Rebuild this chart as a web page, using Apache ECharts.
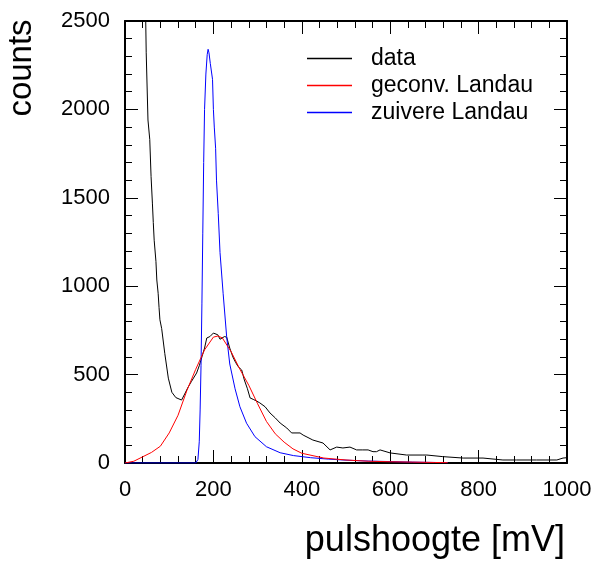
<!DOCTYPE html>
<html>
<head>
<meta charset="utf-8">
<script src="https://cdn.jsdelivr.net/npm/echarts@6/dist/echarts.min.js"></script>
<style>
html,body{margin:0;padding:0;background:#fff;}
#c{width:597px;height:563px;}
</style>
</head>
<body>
<div id="c"></div>
<script>
// ---- data ----
const xTicks = [0, 200, 400, 600, 800, 1000];
const yTicks = [0, 500, 1000, 1500, 2000, 2500];

const seriesNames = ['data', 'geconv. Landau', 'zuivere Landau'];

// measured histogram ("data")
const dataX = [30, 45, 48, 52, 56, 59, 62, 64, 66, 70, 72, 75, 77, 79, 83, 90, 98, 106, 115, 128, 135, 143, 150, 162, 168, 174, 180, 185, 192, 200, 204, 210, 215, 219, 225, 230, 237, 244, 250, 256, 264, 270, 277, 283, 290, 298, 305, 317, 328, 340, 351, 366, 377, 396, 403, 425, 448, 464, 479, 493, 509, 524, 538, 550, 561, 569, 577, 600, 637, 674, 683, 719, 765, 810, 855, 886, 931, 977, 991, 1000];
const dataCounts = [4000, 2800, 2320, 1940, 1830, 1620, 1470, 1360, 1260, 1140, 1035, 960, 880, 810, 760, 620, 480, 400, 370, 356, 390, 430, 460, 509, 550, 600, 650, 707, 715, 735, 740, 725, 700, 710, 715, 712, 650, 600, 570, 545, 526, 470, 420, 368, 360, 350, 340, 318, 283, 255, 226, 198, 170, 170, 158, 130, 113, 74, 90, 85, 90, 74, 74, 74, 64, 64, 74, 57, 45, 45, 45, 36, 28, 28, 17, 17, 17, 17, 28, 30];

// convolved Landau fit
const convX = [0, 20, 40, 60, 80, 100, 120, 140, 160, 180, 200, 210, 220, 240, 260, 280, 300, 320, 340, 360, 380, 400, 450, 500, 550, 600, 650, 700, 730];
const convCounts = [0, 10, 35, 60, 95, 170, 270, 410, 530, 640, 712, 718, 708, 630, 530, 440, 335, 235, 165, 118, 80, 55, 28, 17, 10, 7, 5, 3, 2];

// pure Landau
const pureX = [0, 160, 165, 168, 170, 172, 174, 176, 178, 180, 183, 186, 188, 190, 193, 196, 198, 200, 202, 205, 207, 211, 215, 222, 230, 237, 249, 260, 275, 294, 320, 351, 381, 420, 460, 500, 550, 600, 650, 700, 730];
const pureCounts = [0, 0, 20, 120, 300, 550, 900, 1300, 1700, 2000, 2200, 2310, 2340, 2320, 2260, 2250, 2170, 2000, 1900, 1780, 1600, 1410, 1190, 960, 714, 560, 420, 318, 225, 149, 92, 58, 42, 30, 22, 16, 11, 8, 5, 3, 2];

function pairs(xs, ys) { return xs.map((x, i) => [x, ys[i]]); }

const chart = echarts.init(document.getElementById('c'), null, {renderer: 'canvas'});
const FONT = 'Liberation Sans, Arial, Helvetica, sans-serif';

const tickStyle = {color: '#000', width: 1};
function xAxisCfg(pos, labels) {
  return {
    type: 'value', position: pos, min: xTicks[0], max: xTicks[xTicks.length - 1], interval: xTicks[1] - xTicks[0],
    axisLine: {show: true, onZero: false, lineStyle: {color: '#000', width: 2}},
    axisTick: {show: true, inside: true, length: 13, lineStyle: tickStyle},
    minorTick: {show: true, splitNumber: 5, length: 7, lineStyle: tickStyle},
    axisLabel: {show: labels, margin: 16, color: '#000', fontSize: 22, fontFamily: FONT, formatter: v => String(v)},
    splitLine: {show: false}
  };
}
function yAxisCfg(pos, labels) {
  return {
    type: 'value', position: pos, min: yTicks[0], max: yTicks[yTicks.length - 1], interval: yTicks[1] - yTicks[0],
    axisLine: {show: true, onZero: false, lineStyle: {color: '#000', width: 2}},
    axisTick: {show: true, inside: true, length: 13, lineStyle: tickStyle},
    minorTick: {show: true, splitNumber: 5, length: 7, lineStyle: tickStyle},
    axisLabel: {show: labels, margin: 15, color: '#000', fontSize: 22, fontFamily: FONT, formatter: v => String(v)},
    splitLine: {show: false}
  };
}

chart.setOption({
  animation: false,
  backgroundColor: '#fff',
  grid: {left: 125, top: 21, width: 442, height: 442},
  xAxis: [xAxisCfg('bottom', true), xAxisCfg('top', false)],
  yAxis: [yAxisCfg('left', true), yAxisCfg('right', false)],
  legend: {
    orient: 'vertical', left: 302, top: 42, itemWidth: 45, itemHeight: 1.5, itemGap: 4,
    icon: 'rect',
    data: seriesNames,
    textStyle: {fontSize: 23, fontFamily: FONT, color: '#000', padding: [0, 0, 0, 14]}
  },
  series: [
    {name: seriesNames[0], type: 'line', data: pairs(dataX, dataCounts), showSymbol: false, symbol: 'none', color: '#000', lineStyle: {width: 1, color: '#000'}, z: 2},
    {name: seriesNames[2], type: 'line', data: pairs(pureX, pureCounts), showSymbol: false, symbol: 'none', color: '#0000ff', lineStyle: {width: 1, color: '#0000ff'}, z: 3},
    {name: seriesNames[1], type: 'line', data: pairs(convX, convCounts), showSymbol: false, symbol: 'none', color: '#ff0000', lineStyle: {width: 1, color: '#ff0000'}, z: 4}
  ],
  graphic: [
    {type: 'text', right: 32, top: 523, style: {text: 'pulshoogte [mV]', fontSize: 36, fontFamily: FONT, fill: '#000'}},
    {type: 'text', x: 22, y: 68, rotation: Math.PI / 2, style: {text: 'counts', fontSize: 33, fontFamily: FONT, fill: '#000', align: 'center', verticalAlign: 'middle'}}
  ]
});
</script>
</body>
</html>
